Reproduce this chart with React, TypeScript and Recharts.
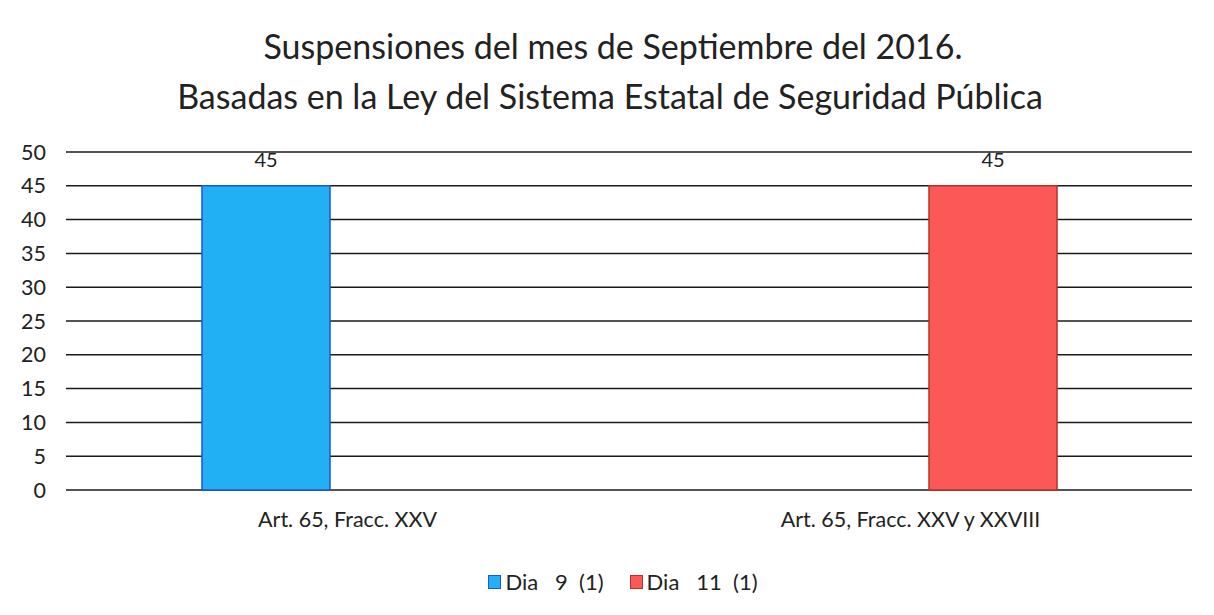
import React from 'react';
import { BarChart, Bar, XAxis, YAxis, CartesianGrid, Legend, LabelList } from 'recharts';

const categories = ['Art. 65, Fracc. XXV', 'Art. 65, Fracc. XXV y XXVIII'];
const dia9 = [45, null];
const dia11 = [null, 45];
const yTicks = [0, 5, 10, 15, 20, 25, 30, 35, 40, 45, 50];

const series = [
  { key: 'dia9', name: 'Dia   9  (1)', fill: '#22b0f4', stroke: '#1d56d6' },
  { key: 'dia11', name: 'Dia   11  (1)', fill: '#fd5858', stroke: '#b8302a' },
];

const data = categories.map((c, i) => ({ category: c, dia9: dia9[i], dia11: dia11[i] }));

const FONT = 'Lato, "Open Sans", sans-serif';

const renderLegend = () => (
  <div style={{ display: 'flex', justifyContent: 'center', gap: 26, fontFamily: FONT, fontSize: 22, color: '#222', marginLeft: 52 }}>
    {series.map((s) => (
      <div key={s.key} style={{ display: 'flex', alignItems: 'center' }}>
        <span
          style={{
            display: 'inline-block',
            width: 11,
            height: 12,
            background: s.fill,
            border: `1px solid ${s.stroke}`,
            marginRight: 4,
          }}
        />
        <span style={{ whiteSpace: 'pre' }}>{s.name}</span>
      </div>
    ))}
  </div>
);

export default function App() {
  return (
    <div style={{ position: 'absolute', left: 0, top: 0, width: 1214, height: 615, background: '#fff' }}>
      <div
        style={{
          position: 'absolute',
          top: 21,
          left: 0,
          width: 1214,
          textAlign: 'center',
          fontFamily: FONT,
          fontSize: 34,
          lineHeight: '50px',
          color: '#222',
        }}
      >
        <div style={{ marginLeft: 12 }}>Suspensiones del mes de Septiembre del 2016.</div>
        <div style={{ marginLeft: 6 }}>Basadas en la Ley del Sistema Estatal de Seguridad Pública</div>
      </div>
      <BarChart
        width={1214}
        height={615}
        data={data}
        margin={{ top: 152, right: 22, bottom: 20, left: 2 }}
        barGap={36}
        barSize={128}
      >
        <CartesianGrid horizontal vertical={false} stroke="#1a1a1a" strokeWidth={1.5} />
        <XAxis
          dataKey="category"
          axisLine={false}
          tickLine={false}
          tickSize={0}
          tickMargin={22}
          height={78}
          tick={{ fontFamily: FONT, fontSize: 21.5, fill: '#222' }}
        />
        <YAxis
          domain={[0, 50]}
          ticks={yTicks}
          axisLine={false}
          tickLine={false}
          tickSize={0}
          tickMargin={20}
          width={64}
          tick={{ fontFamily: FONT, fontSize: 21.5, fill: '#222' }}
        />
        <Legend verticalAlign="bottom" content={renderLegend} />
        {series.map((s) => (
          <Bar
            key={s.key}
            dataKey={s.key}
            name={s.name}
            fill={s.fill}
            stroke={s.stroke}
            strokeWidth={1.5}
            isAnimationActive={false}
          >
            <LabelList
              dataKey={s.key}
              position="top"
              offset={19}
              style={{ fontFamily: FONT, fontSize: 20, fill: '#222' }}
              formatter={(v: any) => (v == null ? '' : v)}
            />
          </Bar>
        ))}
      </BarChart>
    </div>
  );
}
